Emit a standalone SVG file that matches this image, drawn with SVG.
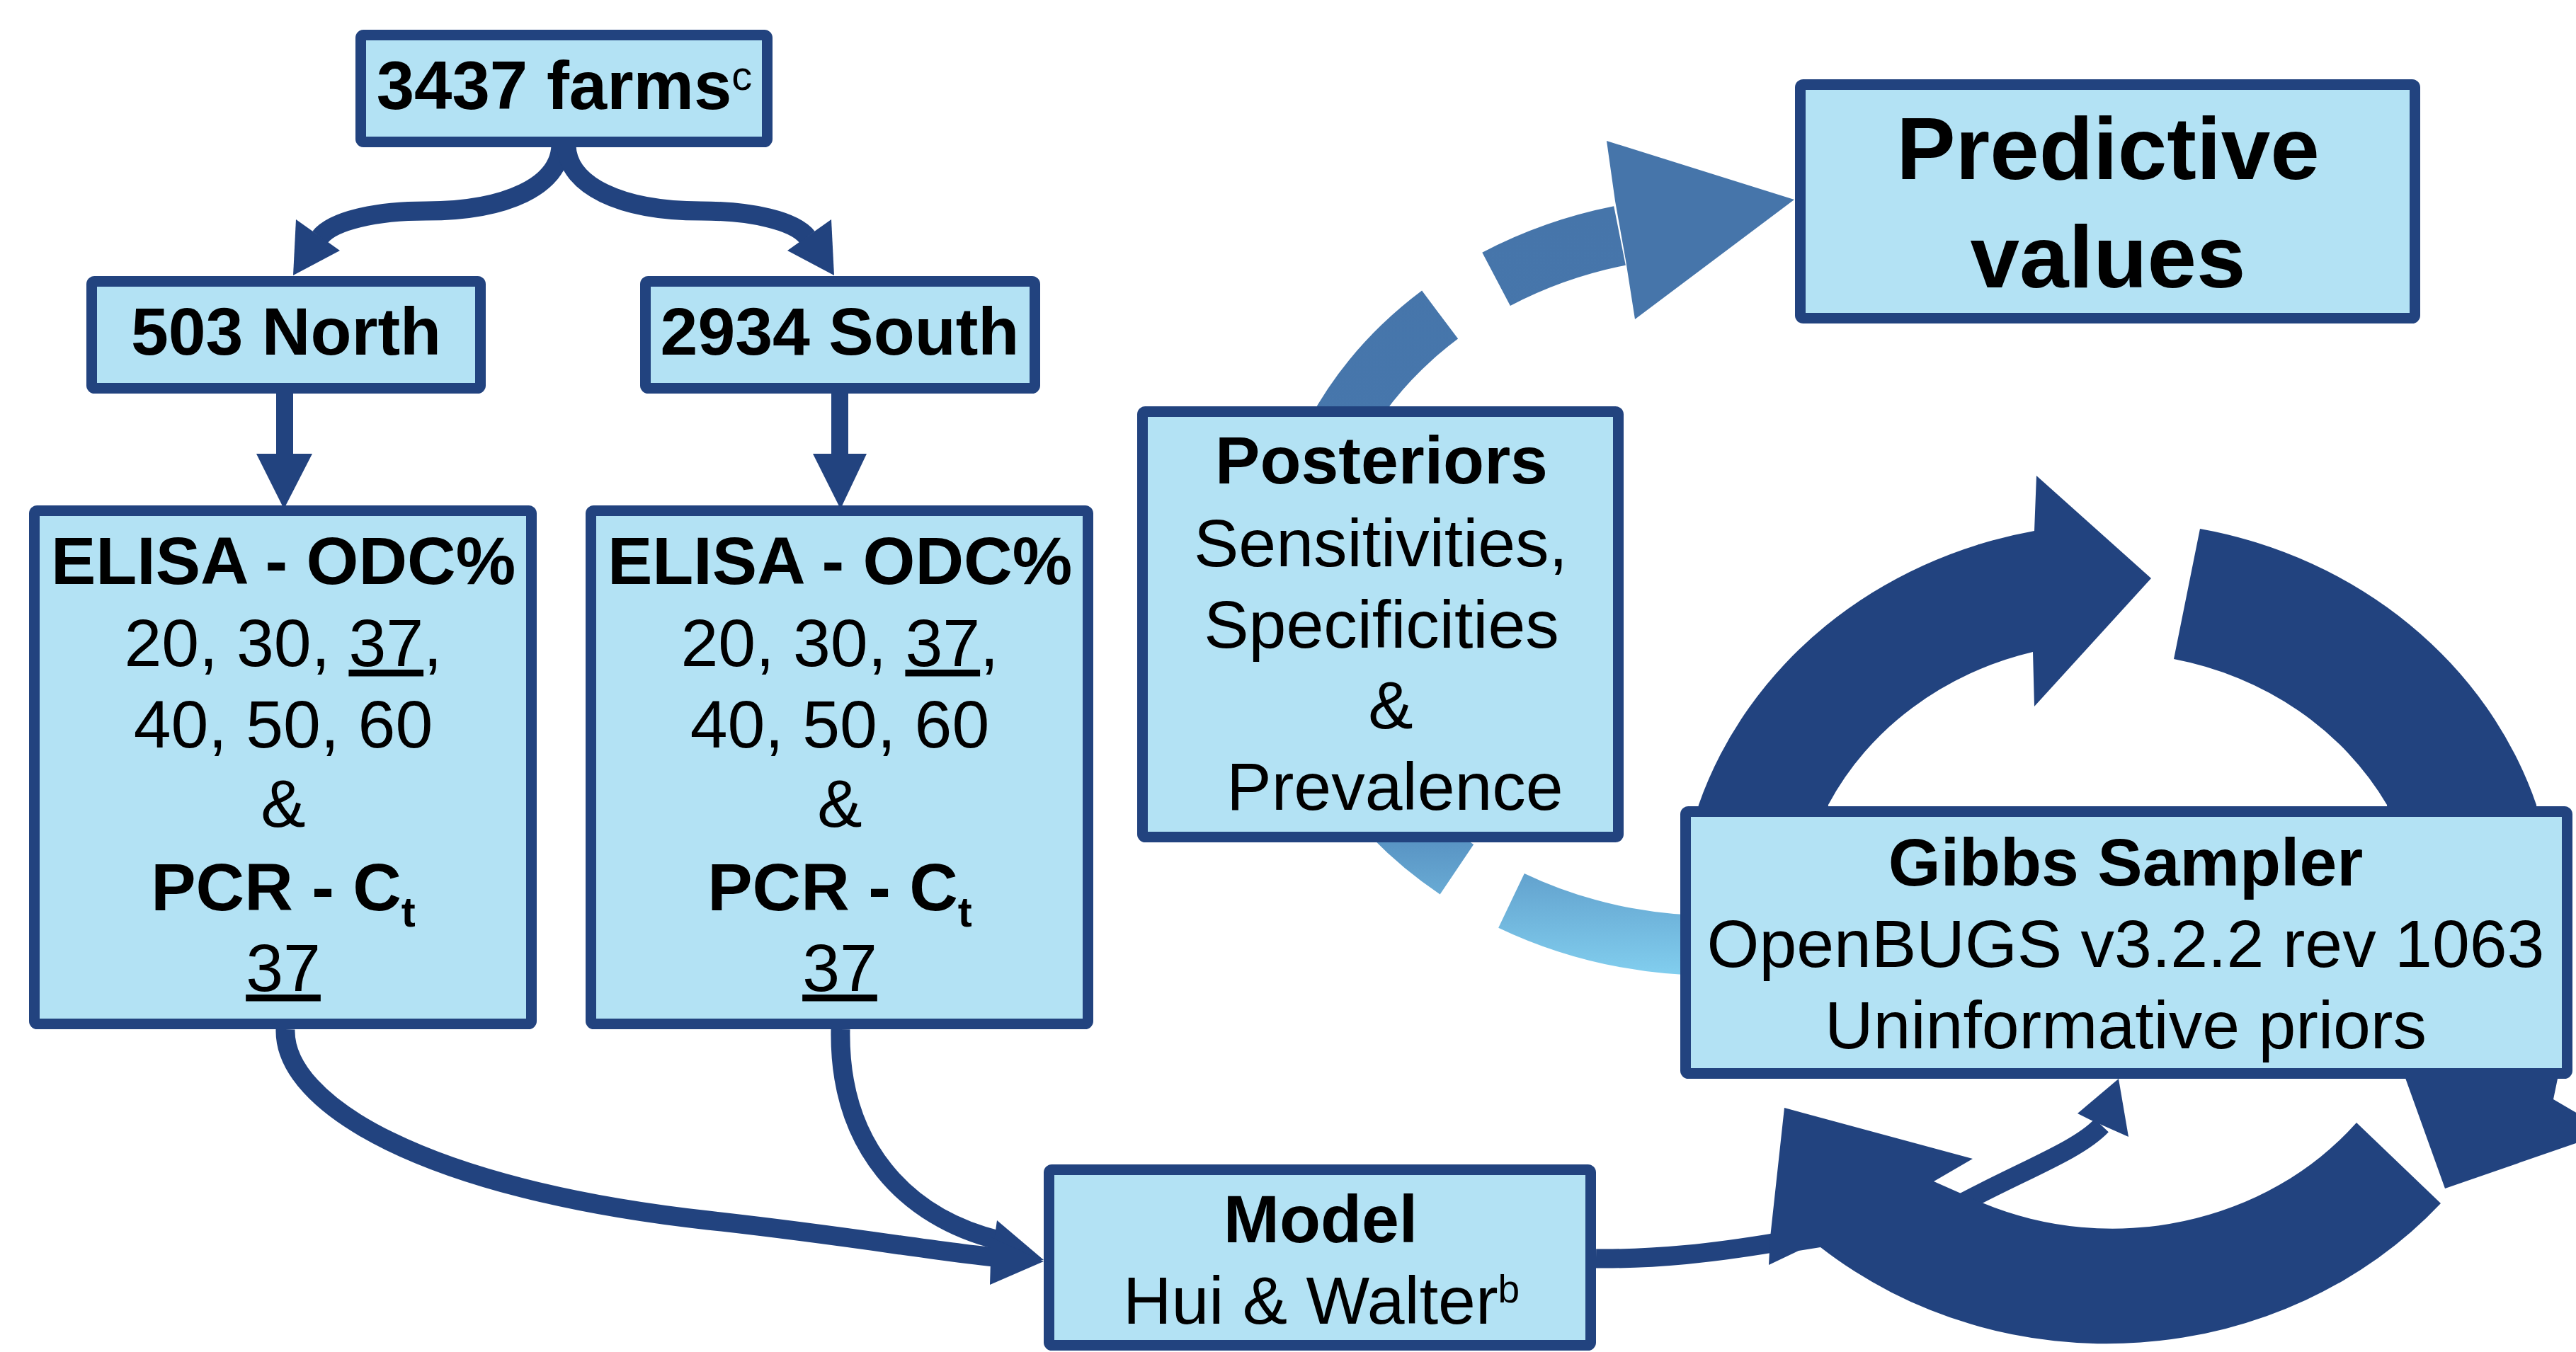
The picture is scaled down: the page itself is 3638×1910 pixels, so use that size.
<svg xmlns="http://www.w3.org/2000/svg" width="3638" height="1910" viewBox="0 0 3638 1910">
<defs>
<style>
.box{fill:#b3e2f4;stroke:#22437f;stroke-width:15}
.t{font-family:"Liberation Sans",Arial,sans-serif;font-size:95px;fill:#000;text-anchor:middle}
.b{font-weight:bold}
.u{text-decoration:underline}
.conn{fill:none;stroke:#22437f;stroke-width:27}
.head{fill:#22437f}
.ring{fill:#22437f}
.light{fill:none;stroke:url(#lg);stroke-width:85;stroke-linecap:butt}
</style>
<linearGradient id="lg" gradientUnits="userSpaceOnUse" x1="0" y1="300" x2="0" y2="1380">
<stop offset="0" stop-color="#4675aa"/>
<stop offset="0.62" stop-color="#4778ae"/>
<stop offset="0.82" stop-color="#5893c3"/>
<stop offset="1" stop-color="#82cfef"/>
</linearGradient>
</defs>
<rect width="3638" height="1910" fill="#ffffff"/>

<g id="predictive-arc">
<path class="light" d="M 2471,1334 A 589 508 0 0 1 2134.5,1272.3"/>
<path class="light" d="M 2057.4,1228.3 A 589 508 0 0 1 2033.6,444.6"/>
<path class="light" d="M 2113.1,394.4 A 589 508 0 0 1 2287.5,333"/>
<polygon fill="#4675aa" points="2281,284 2269,199 2534,282 2309,451 2296,368"/>
</g>

<g id="connectors">
<path class="conn" d="M 792,206 C 790,262 716,298 602,298 C 530,298 470,312 452,335"/>
<polygon class="head" points="418,310 480,354 414,389"/>
<path class="conn" d="M 800,206 C 802,262 876,298 990,298 C 1062,298 1122,312 1140,335"/>
<polygon class="head" points="1174,310 1112,354 1178,389"/>
<line class="conn" x1="402" y1="556" x2="402" y2="645" style="stroke-width:24"/>
<polygon class="head" points="362,641 441,641 401,719"/>
<line class="conn" x1="1186" y1="556" x2="1186" y2="645" style="stroke-width:24"/>
<polygon class="head" points="1148,641 1224,641 1187,719"/>
<path class="conn" d="M 403,1454 C 400,1560 600,1680 1000,1724 C 1200,1746 1320,1768 1405,1776"/>
<path class="conn" d="M 1187,1454 C 1184,1620 1280,1720 1410,1752"/>
<polygon class="head" points="1408,1724 1474,1780 1400,1783"/>
<polygon class="head" points="1400,1748 1474,1782 1398,1815"/>
<path class="conn" d="M 2254,1778 C 2340,1779 2420,1770 2510,1755"/>
<path class="conn" d="M 2770,1700 C 2860,1652 2935,1625 2968,1590"/>
<polygon class="head" points="2934,1573 2992,1524 3006,1606 2979,1594 2952,1582"/>
</g>

<g id="cycle">
<path class="ring" d="M 2385,1200 L 2399,1137 A 624 573 0 0 1 2873,750 L 2876,672 L 3038,817 L 2873,998 L 2871,921 A 445 408 0 0 0 2582,1137 L 2578,1200 Z"/>
<path class="ring" d="M 3107,747 A 624 573 0 0 1 3582,1137 L 3612,1524 L 3606,1553 L 3684,1599 L 3453,1679 L 3397,1523 L 3371,1137 A 445 408 0 0 0 3070,931 Z"/>
<path class="ring" d="M 3328,1586 L 3447,1700 A 624 573 0 0 1 2571,1762 L 2540,1767 L 2498,1787 L 2500,1748 L 2520,1565 L 2786,1637 L 2731,1669 L 2799,1699 A 445 408 0 0 0 3328,1586 Z"/>
</g>

<g id="farms">
<rect class="box" x="509.5" y="49.5" width="574" height="151" rx="4"/>
<text class="t b" x="797" y="154" style="font-size:96px">3437 farms<tspan style="font-weight:normal;font-size:58px" dy="-27">c</tspan></text>
</g>
<g id="north">
<rect class="box" x="129.5" y="397.5" width="549" height="151" rx="4"/>
<text class="t b" x="404" y="501">503 North</text>
</g>
<g id="south">
<rect class="box" x="911.5" y="397.5" width="550" height="151" rx="4"/>
<text class="t b" x="1186" y="501">2934 South</text>
</g>
<g id="tests-north">
<rect class="box" x="48.5" y="721.5" width="702" height="725" rx="4"/>
<text class="t b" x="400" y="825">ELISA - ODC%</text>
<text class="t" x="400" y="941">20, 30, <tspan class="u">37</tspan>,</text>
<text class="t" x="400" y="1056">40, 50, 60</text>
<text class="t" x="400" y="1168">&amp;</text>
<text class="t b" x="400" y="1286">PCR - C<tspan style="font-size:60px" dy="23">t</tspan></text>
<text class="t u" x="400" y="1400">37</text>
</g>
<g id="tests-south">
<rect class="box" x="834.5" y="721.5" width="702" height="725" rx="4"/>
<text class="t b" x="1186" y="825">ELISA - ODC%</text>
<text class="t" x="1186" y="941">20, 30, <tspan class="u">37</tspan>,</text>
<text class="t" x="1186" y="1056">40, 50, 60</text>
<text class="t" x="1186" y="1168">&amp;</text>
<text class="t b" x="1186" y="1286">PCR - C<tspan style="font-size:60px" dy="23">t</tspan></text>
<text class="t u" x="1186" y="1400">37</text>
</g>
<g id="model">
<rect class="box" x="1481.5" y="1652.5" width="765" height="248" rx="4"/>
<text class="t b" x="1865" y="1755">Model</text>
<text class="t" x="1866" y="1870">Hui &amp; Walter<tspan style="font-size:55px" dy="-30">b</tspan></text>
</g>
<g id="posteriors">
<rect class="box" x="1613.5" y="581.5" width="672" height="601" rx="4"/>
<text class="t b" x="1951" y="683">Posteriors</text>
<text class="t" x="1950" y="800">Sensitivities,</text>
<text class="t" x="1951" y="915">Specificities</text>
<text class="t" x="1964" y="1029">&amp;</text>
<text class="t" x="1970" y="1144">Prevalence</text>
</g>
<g id="gibbs">
<rect class="box" x="2380.5" y="1146.5" width="1245" height="370" rx="4"/>
<text class="t b" x="3002" y="1251">Gibbs Sampler</text>
<text class="t" x="3002" y="1366">OpenBUGS v3.2.2 rev 1063</text>
<text class="t" x="3002" y="1481">Uninformative priors</text>
</g>
<g id="predictive">
<rect class="box" x="2542.5" y="119.5" width="868" height="330" rx="4"/>
<text class="t b" x="2977" y="253" style="font-size:125px">Predictive</text>
<text class="t b" x="2977" y="406" style="font-size:125px">values</text>
</g>
</svg>
